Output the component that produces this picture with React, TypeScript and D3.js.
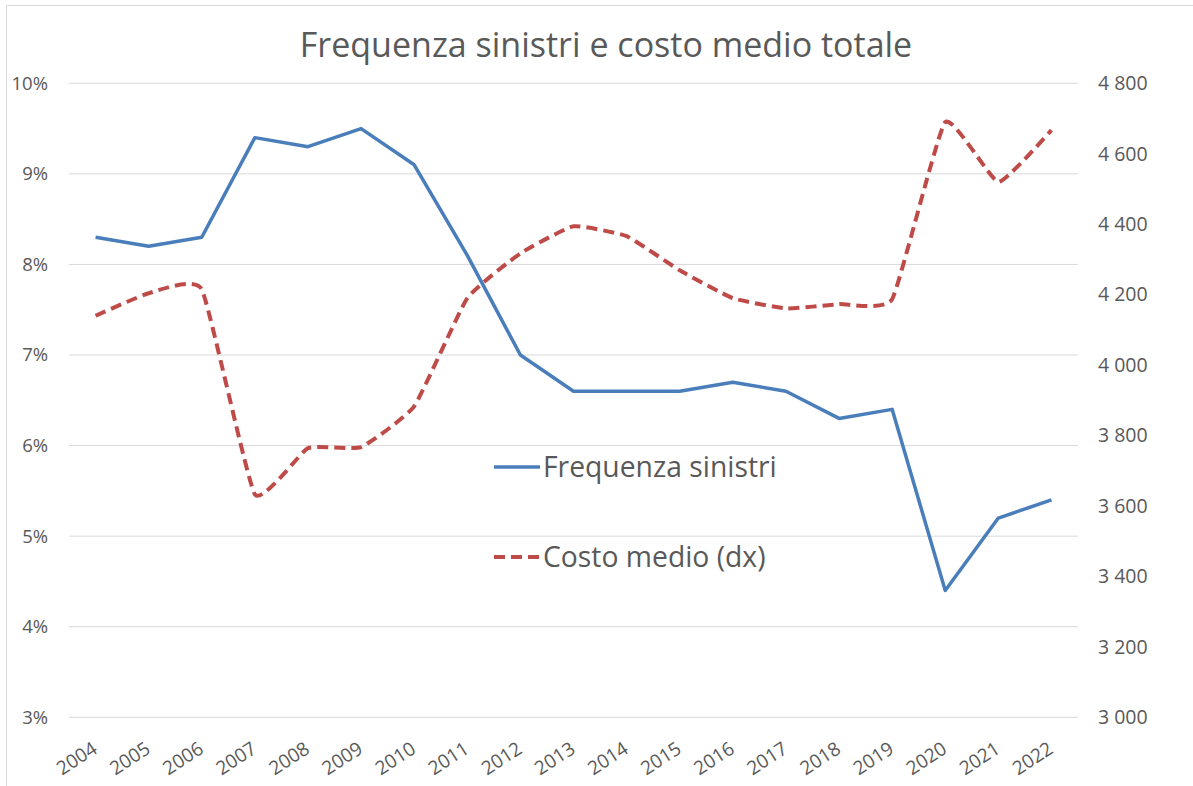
import React from "react";
import * as d3 from "d3";

const years = ["2004","2005","2006","2007","2008","2009","2010","2011","2012","2013","2014","2015","2016","2017","2018","2019","2020","2021","2022"];
const frequenza = [8.3, 8.2, 8.3, 9.4, 9.3, 9.5, 9.1, 8.1, 7.0, 6.6, 6.6, 6.6, 6.7, 6.6, 6.3, 6.4, 4.4, 5.2, 5.4];
const costoMedio = [4140, 4204, 4215, 3633, 3764, 3767, 3883, 4190, 4317, 4394, 4366, 4269, 4190, 4161, 4173, 4187, 4690, 4520, 4667];
const leftTicks = [3, 4, 5, 6, 7, 8, 9, 10];
const rightTicks = [3000, 3200, 3400, 3600, 3800, 4000, 4200, 4400, 4600, 4800];
const title = "Frequenza sinistri e costo medio totale";
const legendLabels = ["Frequenza sinistri", "Costo medio (dx)"];

const W = 1193, H = 786;
const FONT = "'Open Sans', sans-serif";
const TEXT = "#595959";
const BLUE = "#4A7EBB";
const RED = "#BE4B48";

export default function App() {
  const x = d3.scalePoint<string>().domain(years).range([69, 1078]).padding(0.5);
  const yL = d3.scaleLinear().domain([3, 10]).range([717.3, 83.3]);
  const yR = d3.scaleLinear().domain([3000, 4800]).range([717.3, 83.3]);
  const fmtR = (v: number) => d3.format(",")(v).replace(",", " ");

  const blueLine = d3.line<number>().x((_, i) => x(years[i])!).y((d) => yL(d));
  const redLine = d3.line<number>().x((_, i) => x(years[i])!).y((d) => yR(d)).curve(d3.curveCardinal.tension(0.6));

  return (
    <svg width={W} height={H} style={{ position: "fixed", left: 0, top: 0, background: "#fff" }} fontFamily={FONT}>
      <rect x={0} y={0} width={W} height={H} fill="#fff" />
      <path d={`M6.5,${H} V5.5 H${W}`} fill="none" stroke="#d9d9d9" strokeWidth={1} />
      <text x={606} y={57} textAnchor="middle" fontSize={34} fill={TEXT}>{title}</text>
      {leftTicks.map((t) => (
        <g key={t}>
          <line x1={69} x2={1078} y1={yL(t)} y2={yL(t)} stroke="#d9d9d9" strokeWidth={1} />
          <text x={48} y={yL(t)} dy="0.35em" textAnchor="end" fontSize={18.5} fill={TEXT}>{t}%</text>
        </g>
      ))}
      {rightTicks.map((t) => (
        <text key={t} x={1098} y={yR(t)} dy="0.35em" textAnchor="start" fontSize={19.5} fill={TEXT}>{fmtR(t)}</text>
      ))}
      {years.map((yv) => (
        <text key={yv} x={0} y={0} textAnchor="end" fontSize={19} fill={TEXT}
          transform={`translate(${x(yv)! + 3},${752}) rotate(-33)`}>{yv}</text>
      ))}
      <path d={redLine(costoMedio)!} fill="none" stroke={RED} strokeWidth={4} strokeDasharray="11,6" />
      <path d={blueLine(frequenza)!} fill="none" stroke={BLUE} strokeWidth={3.5} strokeLinejoin="round" />
      <line x1={494} x2={540} y1={467} y2={467} stroke={BLUE} strokeWidth={3.5} />
      <text x={543} y={467} dy="0.35em" fontSize={28.3} fill={TEXT}>{legendLabels[0]}</text>
      <line x1={494} x2={540} y1={557} y2={557} stroke={RED} strokeWidth={4} strokeDasharray="11,6" />
      <text x={543} y={557} dy="0.35em" fontSize={28.3} fill={TEXT}>{legendLabels[1]}</text>
    </svg>
  );
}
